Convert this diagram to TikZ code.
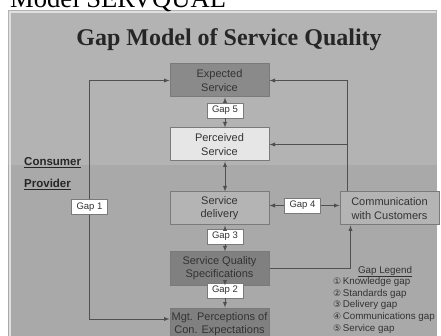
\documentclass[tikz,border=0pt]{standalone}
\usepackage{fontspec}
\setmainfont{Liberation Sans}
\newfontfamily\timesfont{Liberation Serif}
\newfontfamily\symfont{DejaVu Sans}
\usepackage{xcolor}
\usepackage{tikz}
\usetikzlibrary{positioning,
                calc}
\definecolor{paneltop}{HTML}{B3B3B3}
\definecolor{panelbot}{HTML}{A9A9A9}
\definecolor{darkbox}{HTML}{8A8A8A}
\definecolor{darkerbox}{HTML}{808080}
\definecolor{lightbox}{HTML}{E6E6E6}
\definecolor{midbox}{HTML}{B4B4B4}
\definecolor{boxline}{HTML}{7A7A7A}
\definecolor{boxtext}{HTML}{333333}
\definecolor{linegray}{HTML}{505050}
\tikzset{servbox/.style = {draw=boxline,
                     line width=1pt,
                     minimum width=99pt,
                     minimum height=33pt,
                     inner sep=0pt,
                     align=center,
                     text=boxtext,
                     font=\fontsize{11}{13.3}\selectfont
                    },
         gaplabel/.style = {
                     draw=boxline,
                     fill=white,
                     minimum width=36pt,
                     minimum height=15pt,
                     inner sep=0pt,
                     text=boxtext,
                     font=\fontsize{9.5}{11}\selectfont
         },
         sidelabel/.style = {
                     anchor=base west,
                     inner sep=0pt,
                     text=black!85,
                     font=\fontsize{11.5}{13}\selectfont\bfseries
         },
         legenditem/.style = {
                     anchor=base west,
                     inner sep=0pt,
                     text=black!80,
                     font=\fontsize{9.8}{11.8}\selectfont
         },
         conn/.style = {
            draw=linegray,line width=0.9pt,>=latex
         }
        }
\newcommand{\circnum}[1]{{\symfont\fontsize{9}{10}\selectfont #1}}

\begin{document}
\begin{tikzpicture}[x=1pt,y=-1pt]
        \useasboundingbox (0,0) rectangle (441,336);
        \fill[white] (0,0) rectangle (441,336);
        \fill[paneltop] (8,10) rectangle (437,165);
        \fill[panelbot] (8,165) rectangle (437,336);
        \draw[white!75!gray,line width=2pt] (10,336) -- (10,12) -- (436,12);

        \node[anchor=base west,inner sep=0pt,font=\timesfont\fontsize{26.6}{30}\selectfont] (heading) at (10,7.5) {Model SERVQUAL};
        \node[anchor=base,inner sep=0pt,text=black!85,font=\timesfont\bfseries\fontsize{24}{28}\selectfont] (title) at (229,46) {Gap Model of Service Quality};

        \node[servbox,fill=darkbox] (expected) at (219.5,80.5) {Expected\\Service};
        \node[servbox,fill=lightbox,below=30pt of expected] (perceived) {Perceived\\Service};
        \node[servbox,fill=midbox,below=30pt of perceived] (delivery) {Service\\delivery};
        \node[servbox,fill=darkerbox,below=26pt of delivery] (specs) {Service Quality\\Specifications};
        \node[servbox,fill=darkerbox,below=22pt of specs] (mgt) {Mgt. Perceptions of\\Con. Expectations};
        \node[servbox,fill=midbox,right=70pt of delivery] (comm) {Communication\\with Customers};

        \node[gaplabel] (gap5) at (225,110.5) {Gap 5};
        \node[gaplabel] (gap3) at (225,236.5) {Gap 3};
        \node[gaplabel] (gap2) at (225,290.5) {Gap 2};
        \node[gaplabel] (gap4) at (302.5,205.5) {Gap 4};
        \node[gaplabel] (gap1) at (89.5,207) {Gap 1};
        \coordinate (feed) at ([xshift=8pt]comm.north west);

        \path[conn,->] (gap5.north) -- (gap5 |- expected.south);
        \path[conn,->] (gap5.south) -- (gap5 |- perceived.north);
        \path[conn,<->] (gap5 |- perceived.south) -- (gap5 |- delivery.north);
        \path[conn,->] (gap3.north) -- (gap3 |- delivery.south);
        \path[conn,->] (gap3.south) -- (gap3 |- specs.north);
        \path[conn,->] (gap2.north) -- (gap2 |- specs.south);
        \path[conn,->] (gap2.south) -- (gap2 |- mgt.north);
        \path[conn,->] (gap4.west) -- (delivery.east |- gap4);
        \path[conn,->] (gap4.east) -- (comm.west |- gap4);
        \path[conn,->] (gap1.north) |- (expected.west);
        \path[conn,->] (gap1.south) |- ([yshift=5.5pt]mgt.west);
        \path[conn,->] (feed) |- (expected.east);
        \path[conn,->] (feed |- perceived.east) -- (perceived.east);
        \path[conn,->] (specs.east) -| ([xshift=11pt]comm.south west);

        \node[sidelabel] (consumer) at (24,166) {\underline{Consumer}};
        \node[sidelabel] (provider) at (24,188) {\underline{Provider}};

        \node[legenditem,anchor=base] (legend) at (385,273) {\underline{Gap Legend}};
        \foreach \num/\txt [count=\i] in {①/Knowledge gap,②/Standards gap,③/Delivery gap,④/Communications gap,⑤/Service gap}
            \node[legenditem] (item\i) at (333,{272.5+11.8*\i}) {\circnum{\num}\hspace{1.5pt}\txt};
    \end{tikzpicture}
\end{document}
